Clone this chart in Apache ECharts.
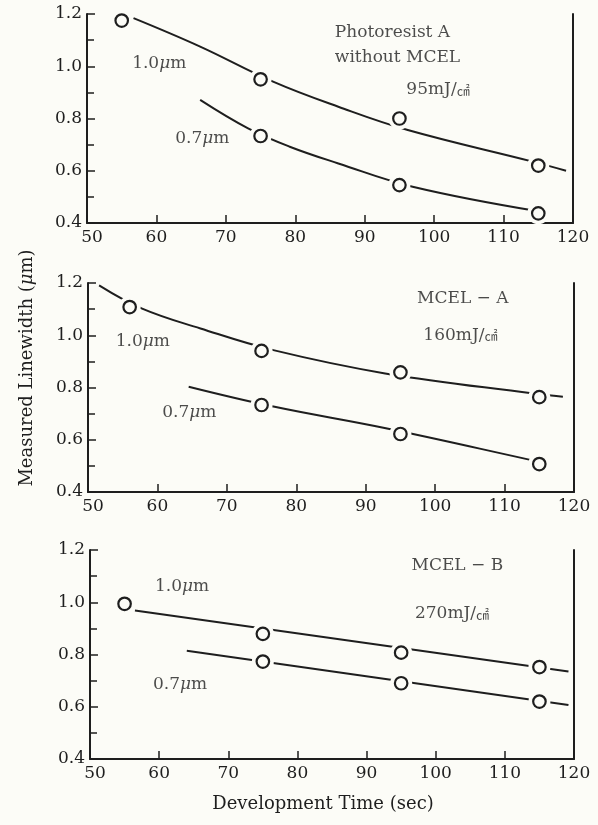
<!DOCTYPE html>
<html>
<head>
<meta charset="utf-8">
<script src="https://cdn.jsdelivr.net/npm/echarts@6/dist/echarts.min.js"></script>
<style>
  html, body { margin: 0; padding: 0; background: #fcfcf7; }
  #chart { width: 598px; height: 825px; }
</style>
</head>
<body>
<div id="chart"></div>
<script>
// measured points (circles), development time in sec
const p1WideTimes = [55, 75, 95, 115];
const p1WideVals = [1.175, 0.95, 0.80, 0.62];
const p1NarrowTimes = [75, 95, 115];
const p1NarrowVals = [0.733, 0.545, 0.437];

const p2WideTimes = [56, 75, 95, 115];
const p2WideVals = [1.108, 0.94, 0.858, 0.763];
const p2NarrowTimes = [75, 95, 115];
const p2NarrowVals = [0.733, 0.622, 0.507];

const p3WideTimes = [55, 75, 95, 115];
const p3WideVals = [0.994, 0.879, 0.807, 0.752];
const p3NarrowTimes = [75, 95, 115];
const p3NarrowVals = [0.773, 0.69, 0.62];

// hand drawn fit curves
const p1WideCurve = [[56.7, 1.184], [66.3, 1.075], [76.8, 0.941], [86.2, 0.845], [96.2, 0.756], [114.2, 0.635], [119, 0.6]];
const p1NarrowCurve = [[66.3, 0.871], [73.2, 0.762], [79.2, 0.692], [86.2, 0.628], [96.9, 0.539], [115, 0.445]];
const p2WideCurve = [[51.6, 1.191], [57.8, 1.102], [66.2, 1.026], [76.7, 0.943], [92.8, 0.854], [113.9, 0.778], [118.4, 0.765]];
const p2NarrowCurve = [[64.5, 0.803], [76.7, 0.727], [92.9, 0.644], [113.7, 0.523], [115, 0.515]];
const p3WideCurve = [[56.5, 0.968], [119.2, 0.735]];
const p3NarrowCurve = [[64, 0.814], [119.2, 0.607]];

const xTicks = [50, 60, 70, 80, 90, 100, 110, 120];
const yTicks = [0.4, 0.6, 0.8, 1.0, 1.2];

// text notes, placed in data coordinates
const notes = [
  [
    { value: [85.7, 1.127], name: 'Photoresist A' },
    { value: [85.7, 1.032], name: 'without MCEL' },
    { value: [96, 0.909], name: '95mJ/{cm|㎠}' },
    { value: [56.5, 1.012], name: '1.0{mu|μ}m' },
    { value: [62.7, 0.725], name: '0.7{mu|μ}m' }
  ],
  [
    { value: [97.4, 1.142], name: 'MCEL − A' },
    { value: [98.3, 1.0], name: '160mJ/{cm|㎠}' },
    { value: [54.0, 0.974], name: '1.0{mu|μ}m' },
    { value: [60.7, 0.703], name: '0.7{mu|μ}m' }
  ],
  [
    { value: [96.5, 1.139], name: 'MCEL − B' },
    { value: [97.0, 0.955], name: '270mJ/{cm|㎠}' },
    { value: [59.4, 1.059], name: '1.0{mu|μ}m' },
    { value: [59.1, 0.684], name: '0.7{mu|μ}m' }
  ]
];

const BG = '#fcfcf7';
const INK = '#1e1e1e';
const TXT = '#1e1e1e';
const FONT = 'DejaVu Serif';

const panels = [
  { wide: [p1WideTimes, p1WideVals], narrow: [p1NarrowTimes, p1NarrowVals], curves: [p1WideCurve, p1NarrowCurve] },
  { wide: [p2WideTimes, p2WideVals], narrow: [p2NarrowTimes, p2NarrowVals], curves: [p2WideCurve, p2NarrowCurve] },
  { wide: [p3WideTimes, p3WideVals], narrow: [p3NarrowTimes, p3NarrowVals], curves: [p3WideCurve, p3NarrowCurve] }
];

const zip = (xs, ys) => xs.map((x, i) => [x, ys[i]]);

const chart = echarts.init(document.getElementById('chart'));

const xAxes = panels.map((p, i) => ({
  gridIndex: i,
  type: 'value',
  min: xTicks[0],
  max: xTicks[xTicks.length - 1],
  interval: 10,
  name: i === 2 ? 'Development Time (sec)' : '',
  nameLocation: 'middle',
  nameGap: 36,
  nameTextStyle: { fontFamily: FONT, fontSize: 18, color: TXT, padding: [0, 18, 0, 0] },
  axisLine: { lineStyle: { color: INK, width: 2 } },
  axisTick: { inside: true, length: 8, lineStyle: { color: INK, width: 1.5 } },
  splitLine: { show: false },
  axisLabel: {
    margin: 6,
    fontFamily: FONT,
    fontSize: 17,
    color: TXT,
    formatter: v => (v === 50 ? '{first|50}' : String(v)),
    rich: { first: { fontFamily: FONT, fontSize: 17, color: TXT, padding: [0, 0, 0, 10] } }
  }
}));

const yLeft = panels.map((p, i) => ({
  gridIndex: i,
  type: 'value',
  min: yTicks[0],
  max: yTicks[yTicks.length - 1],
  interval: 0.2,
  axisLine: { show: true, lineStyle: { color: INK, width: 2 } },
  axisTick: { inside: true, length: 8, lineStyle: { color: INK, width: 1.5 } },
  minorTick: { show: true, splitNumber: 2, length: 7, lineStyle: { color: INK, width: 1.5 } },
  splitLine: { show: false },
  axisLabel: { margin: 5, fontFamily: FONT, fontSize: 17, color: TXT, formatter: v => v.toFixed(1) }
}));

const yRight = panels.map((p, i) => ({
  gridIndex: i,
  type: 'value',
  position: 'right',
  min: yTicks[0],
  max: yTicks[yTicks.length - 1],
  axisLine: { show: true, lineStyle: { color: INK, width: 2 } },
  axisTick: { show: false },
  axisLabel: { show: false },
  splitLine: { show: false }
}));

const series = [];
panels.forEach((p, i) => {
  p.curves.forEach(c => {
    series.push({
      type: 'line',
      xAxisIndex: i,
      yAxisIndex: i,
      data: c,
      smooth: 0.4,
      showSymbol: false,
      silent: true,
      lineStyle: { color: INK, width: 2 },
      z: 2
    });
  });
  const pts = zip(p.wide[0], p.wide[1]).concat(zip(p.narrow[0], p.narrow[1]));
  // background halo so the lines stop short of each circle
  series.push({
    type: 'scatter',
    xAxisIndex: i,
    yAxisIndex: i,
    data: pts,
    symbol: 'circle',
    symbolSize: 22,
    silent: true,
    itemStyle: { color: BG, opacity: 1 },
    z: 3
  });
  series.push({
    type: 'scatter',
    xAxisIndex: i,
    yAxisIndex: i,
    data: pts,
    symbol: 'circle',
    symbolSize: 12.5,
    itemStyle: { color: BG, borderColor: INK, borderWidth: 2.2, opacity: 1 },
    z: 4
  });
  series.push({
    type: 'scatter',
    xAxisIndex: i,
    yAxisIndex: i,
    data: notes[i],
    symbolSize: 0,
    silent: true,
    z: 5,
    label: {
      show: true,
      position: 'right',
      distance: 0,
      formatter: q => q.name,
      fontFamily: FONT,
      fontSize: 17,
      color: TXT,
      rich: {
        mu: { fontFamily: FONT, fontStyle: 'italic', fontSize: 17, color: TXT },
        cm: { fontFamily: 'Noto Sans CJK JP', fontSize: 13, color: TXT }
      }
    }
  });
});

chart.setOption({
  backgroundColor: BG,
  animation: false,
  grid: [
    { left: 87, right: 25, top: 14, height: 209 },
    { left: 88, right: 24, top: 283, height: 209 },
    { left: 90, right: 24, top: 550, height: 209 }
  ],
  xAxis: xAxes,
  yAxis: yLeft.concat(yRight),
  graphic: [{
    type: 'text',
    x: 27,
    y: 368,
    rotation: Math.PI / 2,
    style: {
      text: 'Measured Linewidth ({mu|μ}m)',
      fontFamily: FONT,
      fontSize: 18,
      fill: TXT,
      align: 'center',
      verticalAlign: 'middle',
      rich: { mu: { fontFamily: FONT, fontStyle: 'italic', fontSize: 18, fill: TXT } }
    }
  }],
  series: series
});
</script>
</body>
</html>
